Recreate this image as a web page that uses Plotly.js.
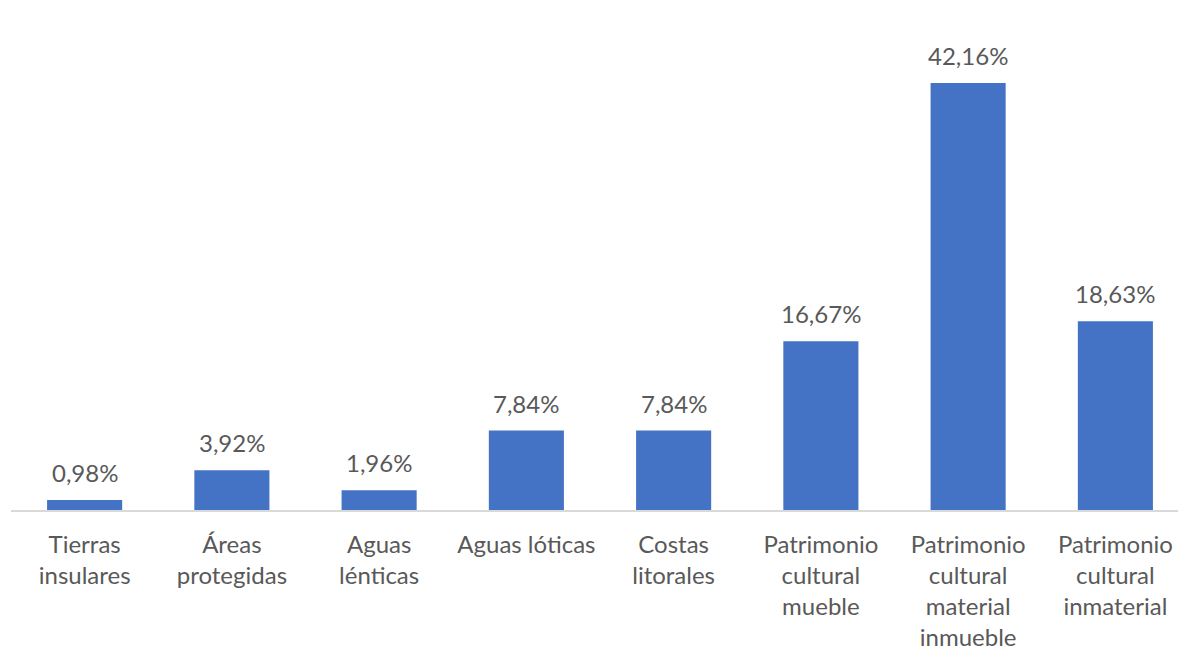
<!DOCTYPE html>
<html><head><meta charset="utf-8">
<script src="https://cdn.plot.ly/plotly-3.0.1.min.js"></script>
<style>html,body{margin:0;padding:0;background:#fff;overflow:hidden;}#chart{width:1189px;height:651px;}</style>
</head><body><div id="chart"></div>
<script>
const categories = ["Tierras<br>insulares","Áreas<br>protegidas","Aguas<br>lénticas","Aguas lóticas","Costas<br>litorales","Patrimonio<br>cultural<br>mueble","Patrimonio<br>cultural<br>material<br>inmueble","Patrimonio<br>cultural<br>inmaterial"];
const values = [0.98, 3.92, 1.96, 7.84, 7.84, 16.67, 42.16, 18.63];
const valueLabels = ["0,98%","3,92%","1,96%","7,84%","7,84%","16,67%","42,16%","18,63%"];

const font = "Lato, 'Open Sans', sans-serif";
const trace = {
  type: 'bar', x: categories, y: values,
  marker: {color: '#4472C4'}, width: 0.51,
  hoverinfo: 'skip'
};
const annotations = categories.map((c, i) => ({
  x: c, y: values[i], text: valueLabels[i], showarrow: false,
  yanchor: 'bottom', yshift: 11,
  font: {family: font, size: 24, color: '#595959'}
}));
const layout = {
  width: 1189, height: 651,
  margin: {l: 11, r: 0, t: 40, b: 141},
  paper_bgcolor: '#fff', plot_bgcolor: '#fff',
  showlegend: false,
  xaxis: {
    type: 'category', showline: true, linecolor: '#d9d9d9', linewidth: 2,
    ticks: '', showgrid: false, zeroline: false,
    tickfont: {family: font, size: 24, color: '#595959'},
    tickangle: 0, ticklabelstandoff: 12
  },
  yaxis: {range: [0, 46.4], visible: false, showgrid: false, zeroline: false},
  annotations: annotations
};
Plotly.newPlot('chart', [trace], layout, {staticPlot: true, displayModeBar: false});
</script></body></html>
